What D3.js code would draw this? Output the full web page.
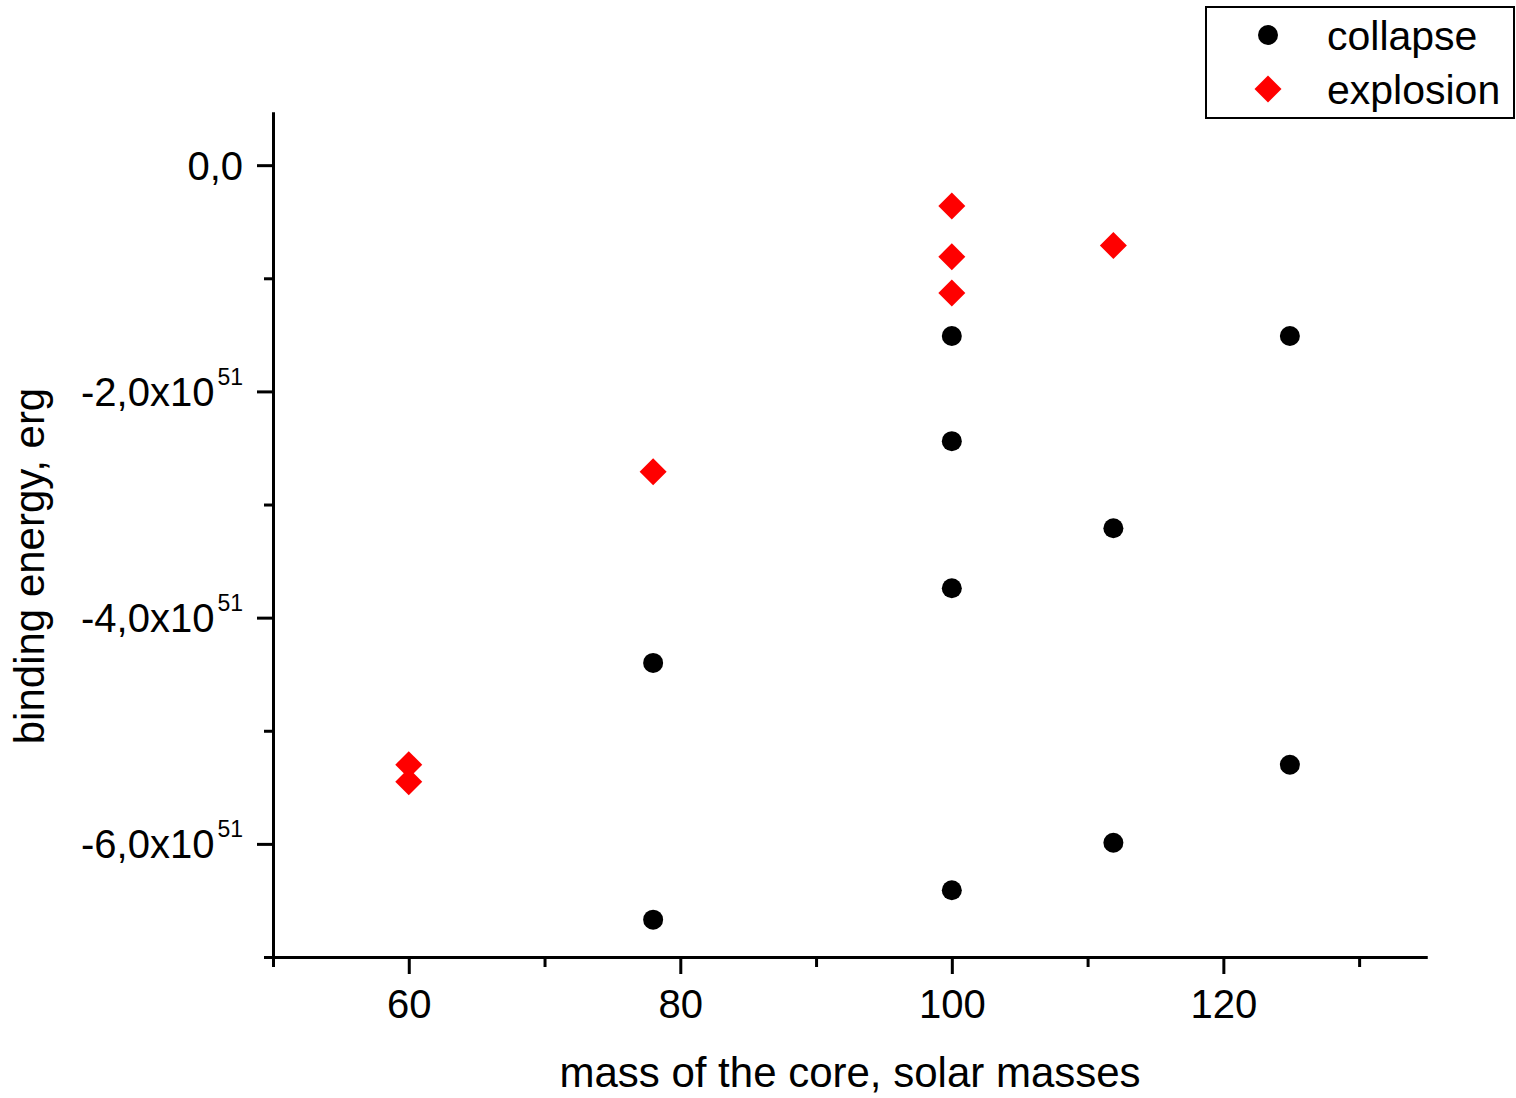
<!DOCTYPE html>
<html>
<head>
<meta charset="utf-8">
<script src="https://cdn.jsdelivr.net/npm/d3@7"></script>
<style>
  body { margin: 0; background: #fff; }
  text { font-family: "Liberation Sans", Arial, sans-serif; fill: #000; }
</style>
</head>
<body>
<script>

// collapse points (black circles)
var collapseMass   = [78, 78, 100, 100, 100, 100, 111.9, 111.9, 124.9, 124.9];
var collapseEnergy = [-6.67, -4.40, -1.51, -2.44, -3.74, -6.41, -3.21, -5.99, -1.51, -5.30];

// explosion points (red diamonds)
var explosionMass   = [100, 100, 100, 111.9, 78, 60, 60];
var explosionEnergy = [-0.36, -0.81, -1.13, -0.71, -2.71, -5.30, -5.45];

// ticks (energy in units of 10^51 erg)
var xMajorTicks = [60, 80, 100, 120];
var xMinorTicks = [50, 70, 90, 110, 130];
var yMajorTicks = [0, -2, -4, -6];
var yMinorTicks = [-1, -3, -5, -7];
var yTickMantissa = ["0,0", "-2,0", "-4,0", "-6,0"];
var yExponent = "51";

var seriesNames = ["collapse", "explosion"];


var margin = {top: 112, right: 89, bottom: 141, left: 273},
    width = 1516 - margin.left - margin.right,
    height = 1098 - margin.top - margin.bottom;

var xScale = d3.scaleLinear()
    .domain([50, 135])
    .range([0, width]);

var yScale = d3.scaleLinear()
    .domain([-7, 0.47])
    .range([height, 0]);

var svg = d3.select("body").append("svg")
    .attr("width", 1516)
    .attr("height", 1098)
  .append("g")
    .attr("transform", "translate(" + margin.left + "," + margin.top + ")");

function styleAxis(g) {
  g.select(".domain").attr("stroke", "#000").attr("stroke-width", 3);
  g.selectAll(".tick line").attr("stroke", "#000").attr("stroke-width", 3);
}

// x axis: minor ticks, then major with labels
svg.append("g")
    .attr("transform", "translate(0," + height + ")")
    .call(d3.axisBottom(xScale).tickValues(xMinorTicks).tickSize(10).tickSizeOuter(0).tickFormat(""))
    .call(styleAxis);

var xAxis = svg.append("g")
    .attr("transform", "translate(0," + height + ")")
    .call(d3.axisBottom(xScale).tickValues(xMajorTicks).tickSize(17).tickSizeOuter(0))
    .call(styleAxis);

xAxis.selectAll(".tick text")
    .attr("y", 61)
    .attr("dy", 0)
    .style("font-size", "40px")
    .style("font-family", "'Liberation Sans', Arial, sans-serif");

// y axis
svg.append("g")
    .call(d3.axisLeft(yScale).tickValues(yMinorTicks).tickSize(9).tickSizeOuter(0).tickFormat(""))
    .call(styleAxis);

var yAxis = svg.append("g")
    .call(d3.axisLeft(yScale).tickValues(yMajorTicks).tickSize(16).tickSizeOuter(0).tickFormat(""))
    .call(styleAxis);

yAxis.selectAll(".tick text").each(function(d, i) {
  var t = d3.select(this)
      .attr("x", -30)
      .attr("y", 14)
      .attr("dy", 0)
      .attr("text-anchor", "end")
      .style("font-family", "'Liberation Sans', Arial, sans-serif");
  if (d === 0) {
    t.append("tspan").style("font-size", "40px").text(yTickMantissa[i]);
  } else {
    t.append("tspan").style("font-size", "40px").text(yTickMantissa[i] + "x10");
    t.append("tspan").style("font-size", "23px").attr("dy", -21).attr("dx", 3).text(yExponent);
  }
});

// axis titles
svg.append("text")
    .attr("x", width / 2)
    .attr("y", height + 130)
    .attr("text-anchor", "middle")
    .style("font-size", "42px")
    .text("mass of the core, solar masses");

svg.append("text")
    .attr("transform", "rotate(-90)")
    .attr("x", -(566 - margin.top))
    .attr("y", 44 - margin.left)
    .attr("text-anchor", "middle")
    .style("font-size", "42px")
    .text("binding energy, erg");

// points
var circle = d3.symbol().type(d3.symbolCircle).size(Math.PI * 100);
var diamond = d3.symbol().type(d3.symbolDiamond2).size(465);

svg.selectAll(".collapse")
    .data(d3.range(collapseMass.length))
  .enter().append("path")
    .attr("class", "collapse")
    .attr("d", circle)
    .attr("fill", "#000")
    .attr("transform", function(i) { return "translate(" + xScale(collapseMass[i]) + "," + yScale(collapseEnergy[i]) + ")"; });

svg.selectAll(".explosion")
    .data(d3.range(explosionMass.length))
  .enter().append("path")
    .attr("class", "explosion")
    .attr("d", diamond)
    .attr("fill", "#ff0000")
    .attr("transform", function(i) { return "translate(" + xScale(explosionMass[i]) + "," + yScale(explosionEnergy[i]) + ")"; });

// legend
var legend = d3.select("svg").append("g")
    .attr("transform", "translate(1206,7)");

legend.append("rect")
    .attr("x", 0)
    .attr("y", 0)
    .attr("width", 308)
    .attr("height", 111)
    .attr("fill", "#fff")
    .attr("stroke", "#000")
    .attr("stroke-width", 2);

legend.append("path")
    .attr("d", circle)
    .attr("fill", "#000")
    .attr("transform", "translate(62,28)");

legend.append("path")
    .attr("d", diamond)
    .attr("fill", "#ff0000")
    .attr("transform", "translate(62,82)");

legend.selectAll(".label")
    .data(seriesNames)
  .enter().append("text")
    .attr("class", "label")
    .attr("x", 121)
    .attr("y", function(d, i) { return 43 + i * 54; })
    .style("font-size", "41px")
    .text(function(d) { return d; });

</script>
</body>
</html>
